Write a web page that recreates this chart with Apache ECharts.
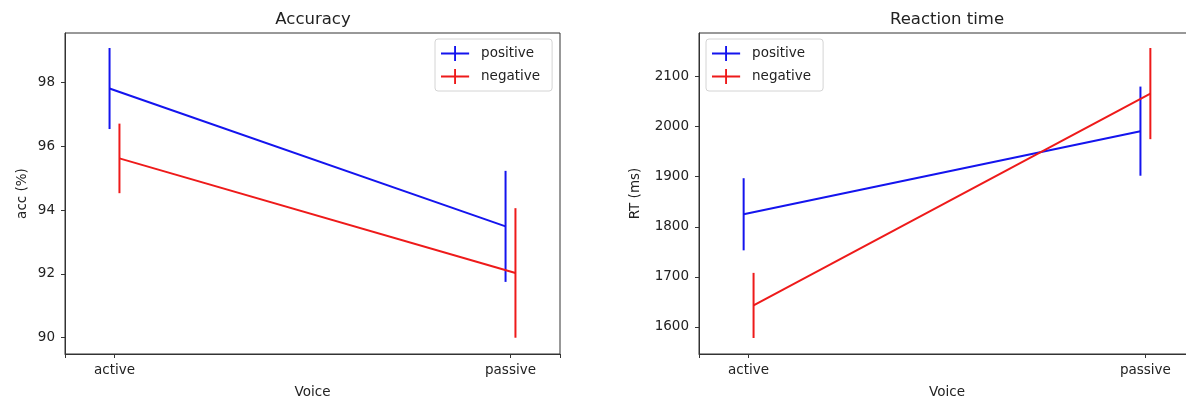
<!DOCTYPE html>
<html>
<head>
<meta charset="utf-8">
<title>Accuracy and reaction time by voice</title>
<script src="https://cdn.jsdelivr.net/npm/echarts@6/dist/echarts.min.js"></script>
<style>
  html, body { margin: 0; padding: 0; background: #fff; }
  #chart { width: 1186px; height: 400px; }
</style>
</head>
<body>
<div id="chart"></div>
<script>
// Sentence voice conditions (x categories)
const categories = ['active', 'passive'];

// Accuracy (%) means and error half-widths
const accPositive = [97.81, 93.49];
const accPositiveErr = [1.27, 1.74];
const accNegative = [95.62, 92.03];
const accNegativeErr = [1.09, 2.03];

// Reaction time (ms) means and error half-widths
const rtPositive = [1825, 1991];
const rtPositiveErr = [72, 89];
const rtNegative = [1643, 2066];
const rtNegativeErr = [65, 91];

// Tick labels
const accTicks = [90, 92, 94, 96, 98];
const rtTicks = [1600, 1700, 1800, 1900, 2000, 2100];

const BLUE = '#1414ee';
const RED = '#ee1a1a';
const TEXT = '#222222';
const FRAME = '#333333';
const LW = 2;
const DODGE = 0.0125;   // small horizontal shift between the two series
const FONT = 'DejaVu Sans';

function lineSeries(name, gi, vals, color, shift) {
  return {
    type: 'line', name: name, xAxisIndex: gi, yAxisIndex: gi,
    data: vals.map((v, i) => [i + shift, v]),
    symbol: 'none', showSymbol: false,
    lineStyle: { color: color, width: LW },
    itemStyle: { color: color },
    color: color,
    z: 3, silent: true
  };
}

function errSeries(name, gi, vals, errs, color, shift) {
  return {
    type: 'custom', name: name, xAxisIndex: gi, yAxisIndex: gi,
    data: vals.map((v, i) => [i + shift, v, errs[i]]),
    encode: { x: 0, y: 1 },
    clip: false, silent: true, z: 3,
    renderItem: function (params, api) {
      const x = api.value(0), m = api.value(1), e = api.value(2);
      const lo = api.coord([x, m - e]);
      const hi = api.coord([x, m + e]);
      return {
        type: 'line',
        shape: { x1: lo[0], y1: lo[1], x2: hi[0], y2: hi[1] },
        style: { stroke: color, lineWidth: LW }
      };
    }
  };
}

function xAxisFor(gi) {
  return {
    type: 'value', gridIndex: gi, min: -0.125, max: 1.125,
    name: 'Voice', nameLocation: 'middle', nameGap: 31,
    nameTextStyle: { color: TEXT, fontSize: 13.5, fontFamily: FONT },
    axisLine: { show: true, onZero: false, lineStyle: { color: FRAME, width: 1 } },
    axisTick: { show: true, length: 4, lineStyle: { color: FRAME }, customValues: [-0.125, 0, 1, 1.125] },
    axisLabel: {
      customValues: [0, 1], margin: 9, color: TEXT, fontSize: 13.5, fontFamily: FONT,
      formatter: v => categories[Math.round(v)]
    },
    splitLine: { show: false }
  };
}

function yAxisFor(gi, name, min, max, ticks, gap) {
  return {
    type: 'value', gridIndex: gi, min: min, max: max,
    name: name, nameLocation: 'middle', nameGap: gap, nameRotate: 90,
    nameTextStyle: { color: TEXT, fontSize: 13.5, fontFamily: FONT },
    axisLine: { show: true, onZero: false, lineStyle: { color: FRAME, width: 1 } },
    axisTick: { show: true, length: 4, lineStyle: { color: FRAME }, customValues: ticks },
    axisLabel: {
      customValues: ticks, margin: 10, color: TEXT, fontSize: 13.5, fontFamily: FONT,
      formatter: v => String(v)
    },
    splitLine: { show: false }
  };
}

const plusIcon = 'path://M0,7 H14 V0 H16 V7 H30 V9 H16 V16 H14 V9 H0 Z';

function legendFor(left) {
  return {
    orient: 'vertical', left: left, top: 39,
    data: [{ name: 'positive', icon: plusIcon }, { name: 'negative', icon: plusIcon }],
    itemWidth: 30, itemHeight: 15, itemGap: 8,
    padding: [7, 12, 7, 6],
    borderColor: '#d4d4d4', borderWidth: 1, borderRadius: 3,
    backgroundColor: 'rgba(255,255,255,0.8)',
    textStyle: { color: TEXT, fontSize: 13.5, fontFamily: FONT, padding: [0, 0, 0, 6] },
    selectedMode: false
  };
}

const chart = echarts.init(document.getElementById('chart'), null, { renderer: 'canvas' });

chart.setOption({
  animation: false,
  backgroundColor: '#ffffff',
  title: [
    { text: 'Accuracy', left: 313, top: 11, textAlign: 'center', padding: 0,
      textStyle: { color: TEXT, fontSize: 16.5, fontWeight: 'normal', fontFamily: FONT } },
    { text: 'Reaction time', left: 947, top: 11, textAlign: 'center', padding: 0,
      textStyle: { color: TEXT, fontSize: 16.5, fontWeight: 'normal', fontFamily: FONT } }
  ],
  legend: [legendFor(435), legendFor(706)],
  grid: [
    { left: 65, top: 33, width: 495, height: 321, show: true, borderColor: FRAME, borderWidth: 1,
      backgroundColor: 'transparent', outerBoundsMode: 'none', containLabel: false },
    { left: 699, top: 33, width: 496, height: 321, show: true, borderColor: FRAME, borderWidth: 1,
      backgroundColor: 'transparent', outerBoundsMode: 'none', containLabel: false }
  ],
  xAxis: [xAxisFor(0), xAxisFor(1)],
  yAxis: [
    yAxisFor(0, 'acc (%)', 89.49, 99.55, accTicks, 36),
    yAxisFor(1, 'RT (ms)', 1546, 2187, rtTicks, 57)
  ],
  series: [
    lineSeries('positive', 0, accPositive, BLUE, -DODGE),
    errSeries('positive err', 0, accPositive, accPositiveErr, BLUE, -DODGE),
    lineSeries('negative', 0, accNegative, RED, DODGE),
    errSeries('negative err', 0, accNegative, accNegativeErr, RED, DODGE),
    lineSeries('positive', 1, rtPositive, BLUE, -DODGE),
    errSeries('positive err', 1, rtPositive, rtPositiveErr, BLUE, -DODGE),
    lineSeries('negative', 1, rtNegative, RED, DODGE),
    errSeries('negative err', 1, rtNegative, rtNegativeErr, RED, DODGE)
  ]
});
</script>
</body>
</html>
